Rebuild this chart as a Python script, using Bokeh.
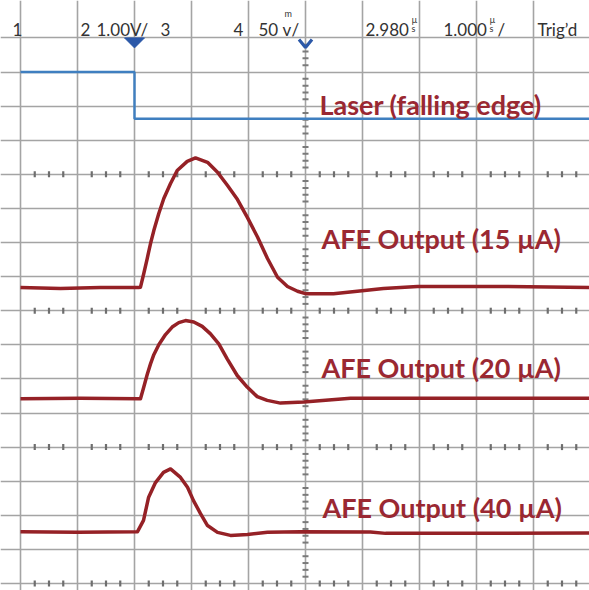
import numpy as np
from bokeh.plotting import figure
from bokeh.models import Range1d, Grid, FixedTicker
from bokeh.core.properties import value
from bokeh.embed import file_html
from bokeh.resources import INLINE

# ---------------- data (time in us, 1.000 us/div, trigger at centre; level in divisions) ----------
laser_t = [-5.0, -3.0, -3.0, 5.0]
laser_v = [15.0, 15.0, 13.63, 13.63]

afe15_t = [-5.00, -4.30, -3.60, -2.93, -2.895, -2.837, -2.777, -2.719, -2.661, -2.574, -2.486, -2.368,
           -2.251, -2.075, -1.930, -1.719, -1.544, -1.368, -1.193, -1.018, -0.842, -0.667, -0.491,
           -0.316, -0.140, 0.00, 0.491, 1.368, 1.965, 3.42, 5.00]
afe15_v = [8.68, 8.65, 8.68, 8.68, 8.69, 9.09, 9.53, 9.97, 10.35, 10.85, 11.29, 11.73,
           12.11, 12.38, 12.48, 12.35, 12.06, 11.67, 11.26, 10.73, 10.16, 9.53, 8.98,
           8.71, 8.57, 8.50, 8.50, 8.65, 8.71, 8.71, 8.68]

afe20_t = [-5.00, -3.95, -2.93, -2.895, -2.837, -2.777, -2.719, -2.661, -2.574, -2.456, -2.339,
           -2.223, -2.105, -1.960, -1.812, -1.667, -1.521, -1.374, -1.198, -1.023, -0.847, -0.672,
           -0.439, -0.030, 0.79, 2.54, 5.00]
afe20_v = [5.42, 5.43, 5.42, 5.42, 5.76, 6.13, 6.44, 6.71, 7.00, 7.30, 7.52,
           7.65, 7.71, 7.67, 7.54, 7.32, 7.03, 6.59, 6.10, 5.76, 5.48, 5.37,
           5.29, 5.32, 5.43, 5.43, 5.43]

afe40_t = [-5.00, -4.00, -2.947, -2.842, -2.754, -2.632, -2.491, -2.368, -2.193, -2.070, -1.965,
           -1.842, -1.719, -1.544, -1.316, -1.018, -0.667, -0.088, 1.140, 1.404, 5.00]
afe40_v = [1.52, 1.50, 1.52, 1.85, 2.52, 2.96, 3.26, 3.36, 3.11, 2.82, 2.43,
           2.05, 1.70, 1.50, 1.41, 1.44, 1.50, 1.52, 1.51, 1.47, 1.48]

trace_labels = ["Laser (falling edge)", "AFE Output (15 \u00b5A)", "AFE Output (20 \u00b5A)", "AFE Output (40 \u00b5A)"]

header_texts = ["1", "2", "1.00V/", "3", "4", "50", "v", "/", "2.980", "1.000", "/", "Trig\u2019d"]
unit_small = ["m", "\u00b5", "s", "\u00b5", "s"]

x_divs = list(range(-5, 6))
y_divs = list(range(0, 17))
tick_rows = [0, 4, 8, 12]
markers_t = [-3.0, 0.0]

# ---------------- layout helpers (screen px of the reference -> data) ----------------
PX0, PXD = 305.0, 57.0       # centre column x, px per division
PY0, PYD = 583.0, 34.1       # bottom row y, px per division
W, H = 589, 590
OFF = 0


def X(px):
    return (px - PX0) / PXD


def Y(py):
    return (PY0 - py) / PYD


p = figure(width=W, height=H, output_backend="svg", toolbar_location=None,
           x_range=Range1d(X(OFF), X(OFF + W)), y_range=Range1d(Y(OFF + H), Y(OFF)),
           x_axis_type=None, y_axis_type=None, min_border=0,
           outline_line_color=None, background_fill_color="white", border_fill_color="white")

grid_col = "#a4a4a4"
p.add_layout(Grid(dimension=0, ticker=FixedTicker(ticks=x_divs),
                  grid_line_color=grid_col, grid_line_width=1.6))
p.add_layout(Grid(dimension=1, ticker=FixedTicker(ticks=y_divs),
                  grid_line_color=grid_col, grid_line_width=1.6))

# tick marks on the graticule rows and centre column
xs = np.arange(-5, 5.001, 0.25)
xs = xs[np.abs(xs - np.round(xs)) > 1e-6]
rx, ry = np.meshgrid(xs, tick_rows)
p.rect(x=rx.ravel(), y=ry.ravel(), width=2.2, height=6, width_units="screen", height_units="screen",
       fill_color="#6e6e6e", line_color=None)
ys = np.arange(0, 16.001, 0.2)
ys = ys[np.abs(ys - np.round(ys)) > 1e-6]
p.rect(x=np.zeros_like(ys), y=ys, width=6, height=2, width_units="screen", height_units="screen",
       fill_color="#7a7a7a", line_color=None)

# traces
p.line(laser_t, laser_v, line_color="#3f7fc0", line_width=2.4)
red = "#952126"
for tt, vv in [(afe15_t, afe15_v), (afe20_t, afe20_v), (afe40_t, afe40_v)]:
    p.line(tt, vv, line_color=red, line_width=3.5, line_join="round")

# trace labels
lab_x = [X(319), X(321), X(321), X(322)]
lab_y = [Y(104), Y(238), Y(367), Y(507)]
p.text(x=lab_x, y=lab_y, text=trace_labels, text_font=value("Lato"), text_font_style="bold",
       text_font_size="27px", text_color="#9a2832", text_baseline="alphabetic", text_align="left")

# header
hx = [X(12), X(80), X(96), X(160), X(233), X(258), X(282), X(291), X(365), X(443), X(497), X(537)]
hy = [Y(29)] * len(header_texts)
p.text(x=hx, y=hy, text=header_texts, text_font=value("Lato"), text_font_size="17px",
       text_color="#333333", text_baseline="alphabetic", text_align="left")
sx_ = [X(284), X(411), X(411), X(489), X(489)]
sy_ = [Y(13), Y(19), Y(28), Y(19), Y(28)]
p.text(x=sx_, y=sy_, text=unit_small, text_font=value("Lato"), text_font_size="9px",
       text_color="#333333", text_baseline="alphabetic", text_align="left")

# channel markers
tri_w, tri_h = 10 / PXD, 10 / PYD
t0 = markers_t[0]
p.patch([t0 - tri_w, t0 + tri_w, t0], [16.0, 16.0, 16.0 - tri_h], fill_color="#2b58a8", line_color="#2b58a8")
t1 = markers_t[1]
vw = 6.5 / PXD
p.line([t1 - vw, t1, t1 + vw], [Y(39), Y(47), Y(39)], line_color="#2b58a8", line_width=3.2)

open("out.html", "w").write(file_html(p, INLINE))
